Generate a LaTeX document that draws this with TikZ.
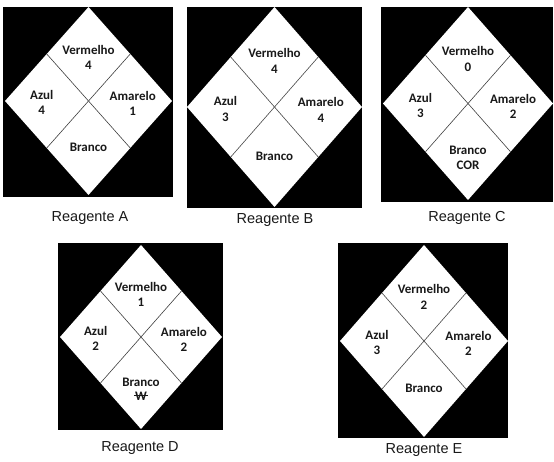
\documentclass[tikz,border=0pt]{standalone}
\usepackage{fontspec}
\usetikzlibrary{calc}
\setmainfont{Liberation Sans}
\newfontfamily\calfont{Carlito}
\newcommand\reagshape[9]{%
  % #1 id, #2-#5 black rectangle, #6 cx, #7 cy, #8 half width, #9 half height
  \fill[black] (#2,#3) rectangle (#4,#5);
  \coordinate (#1-t) at (#6,#7-#9);
  \coordinate (#1-r) at (#6+#8,#7);
  \coordinate (#1-b) at (#6,#7+#9);
  \coordinate (#1-l) at (#6-#8,#7);
  \fill[white] (#1-t) -- (#1-r) -- (#1-b) -- (#1-l) -- cycle;
  \coordinate (#1-tl) at ($(#1-t)!0.5!(#1-l)$);
  \coordinate (#1-tr) at ($(#1-t)!0.5!(#1-r)$);
  \coordinate (#1-bl) at ($(#1-b)!0.5!(#1-l)$);
  \coordinate (#1-br) at ($(#1-b)!0.5!(#1-r)$);
  \draw[div] (#1-tl) -- (#1-br);
  \draw[div] (#1-tr) -- (#1-bl);
  \coordinate (#1-v)   at (#6,#7-0.54*#9);
  \coordinate (#1-vn)  at (#6,#7-0.375*#9);
  \coordinate (#1-az)  at (#6-0.56*#8,#7-0.06*#9);
  \coordinate (#1-azn) at (#6-0.56*#8,#7+0.10*#9);
  \coordinate (#1-am)  at (#6+0.53*#8,#7-0.05*#9);
  \coordinate (#1-amn) at (#6+0.53*#8,#7+0.11*#9);
  \coordinate (#1-br1) at (#6,#7+0.49*#9);
  \coordinate (#1-br2) at (#6,#7+0.645*#9);
}
\begin{document}
\begin{tikzpicture}[x=1pt,y=-1pt,
  lbl/.style={font=\calfont\bfseries\fontsize{13}{15}\selectfont, inner sep=0pt, anchor=center, text=black!90},
  capt/.style={font=\fontsize{14.5}{16}\selectfont, inner sep=0pt, text=black!90},
  div/.style={draw=black!75, line width=0.6pt}]
\useasboundingbox (0,0) rectangle (554,462);
\fill[white] (0,0) rectangle (554,462);

% Reagente A
\reagshape{A}{3}{7}{173}{197}{88.5}{101}{83.5}{94}
\node[lbl] (A-v) at (A-v) {Vermelho};
\node[lbl] (A-vn) at (A-vn) {4};
\node[lbl] (A-az) at (A-az) {Azul};
\node[lbl] (A-azn) at (A-azn) {4};
\node[lbl] (A-am) at (A-am) {Amarelo};
\node[lbl] (A-amn) at (A-amn) {1};
\node[lbl] (A-br) at (A-br1) {Branco};
\node[capt] (A-cap) at (90,218) {Reagente A};

% Reagente B
\reagshape{B}{187}{7}{362}{208}{274.5}{107}{87.5}{100}
\node[lbl] (B-v) at (B-v) {Vermelho};
\node[lbl] (B-vn) at (B-vn) {4};
\node[lbl] (B-az) at (B-az) {Azul};
\node[lbl] (B-azn) at (B-azn) {3};
\node[lbl] (B-am) at (B-am) {Amarelo};
\node[lbl] (B-amn) at (B-amn) {4};
\node[lbl] (B-br) at (B-br1) {Branco};
\node[capt] (B-cap) at (275,220) {Reagente B};

% Reagente C
\reagshape{C}{381}{7}{553}{202}{468}{103.5}{85}{96.5}
\node[lbl] (C-v) at (C-v) {Vermelho};
\node[lbl] (C-vn) at (C-vn) {0};
\node[lbl] (C-az) at (C-az) {Azul};
\node[lbl] (C-azn) at (C-azn) {3};
\node[lbl] (C-am) at (C-am) {Amarelo};
\node[lbl] (C-amn) at (C-amn) {2};
\node[lbl] (C-br) at (C-br1) {Branco};
\node[lbl] (C-brn) at (C-br2) {COR};
\node[capt] (C-cap) at (467,218) {Reagente C};

% Reagente D
\reagshape{D}{58}{243}{223}{430}{141}{337}{81}{92}
\node[lbl] (D-v) at (D-v) {Vermelho};
\node[lbl] (D-vn) at (D-vn) {1};
\node[lbl] (D-az) at (D-az) {Azul};
\node[lbl] (D-azn) at (D-azn) {2};
\node[lbl] (D-am) at (D-am) {Amarelo};
\node[lbl] (D-amn) at (D-amn) {2};
\node[lbl] (D-br) at (D-br1) {Branco};
\node[lbl] (D-brn) at (D-br2) {W};
\draw[line width=1pt, black!90] ([xshift=-1pt,yshift=0.5pt]D-brn.west) -- ([xshift=1pt,yshift=0.5pt]D-brn.east);
\node[capt] (D-cap) at (140,448) {Reagente D};

% Reagente E
\reagshape{E}{338}{243}{508}{438}{424}{341}{84}{96}
\node[lbl] (E-v) at (E-v) {Vermelho};
\node[lbl] (E-vn) at (E-vn) {2};
\node[lbl] (E-az) at (E-az) {Azul};
\node[lbl] (E-azn) at (E-azn) {3};
\node[lbl] (E-am) at (E-am) {Amarelo};
\node[lbl] (E-amn) at (E-amn) {2};
\node[lbl] (E-br) at (E-br1) {Branco};
\node[capt] (E-cap) at (424,450) {Reagente E};
\end{tikzpicture}
\end{document}
